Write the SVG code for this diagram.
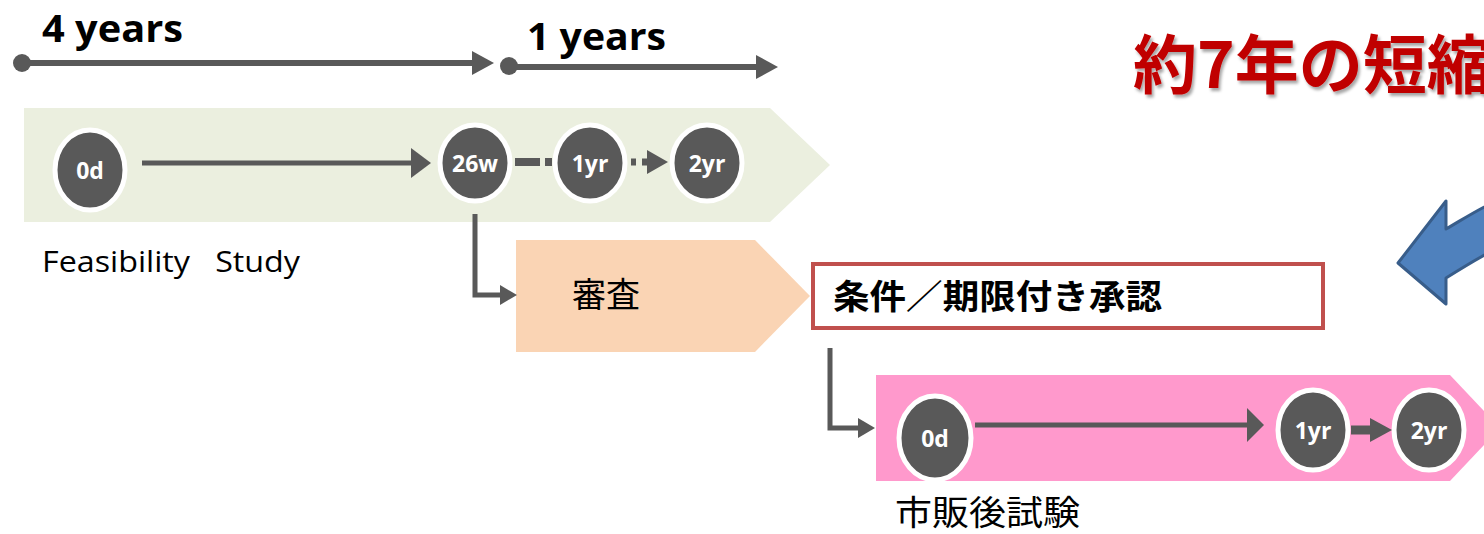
<svg xmlns="http://www.w3.org/2000/svg" width="1484" height="534" viewBox="0 0 1484 534">
<style>
.lbl{font-family:"Open Sans","Liberation Sans",sans-serif;font-weight:bold;fill:#000}
.node{fill:#595959;stroke:#fff;stroke-width:5}
.nt{font-family:"Open Sans","Liberation Sans",sans-serif;font-weight:bold;font-size:23px;fill:#fff;text-anchor:middle}
.ln{stroke:#595959;fill:none}
.hd{fill:#595959}
.jp{font-family:"Noto Sans CJK JP","Noto Sans CJK SC",sans-serif;fill:#000}
</style>
<defs>
<filter id="sh" x="-5%" y="-5%" width="115%" height="130%"><feDropShadow dx="2" dy="3" stdDeviation="1.5" flood-color="#000" flood-opacity="0.35"/></filter>
</defs>

<g id="timeline">
<circle cx="22" cy="63" r="9" fill="#595959"/>
<line class="ln" x1="22" y1="63" x2="474" y2="63" stroke-width="6"/>
<polygon class="hd" points="472,51 494,63 472,75"/>
<text class="lbl" x="42" y="42" font-size="38" textLength="141" lengthAdjust="spacingAndGlyphs">4 years</text>
<circle cx="509" cy="66" r="9" fill="#595959"/>
<line class="ln" x1="509" y1="67" x2="758" y2="67" stroke-width="6"/>
<polygon class="hd" points="756,55 778,67 756,79"/>
<text class="lbl" x="527" y="50" font-size="38" textLength="139" lengthAdjust="spacingAndGlyphs">1 years</text>
</g>

<g id="feasibility">
<polygon points="24,108 770,108 830,165 770,222 24,222" fill="#ebefdf"/>
<text x="42" y="272" font-family="'Open Sans','Liberation Sans',sans-serif" font-size="30" fill="#000" textLength="258" lengthAdjust="spacingAndGlyphs" xml:space="preserve">Feasibility   Study</text>
</g>

<g id="n-0d"><ellipse class="node" cx="90" cy="170" rx="35" ry="40"/><text class="nt" x="90" y="179">0d</text></g>
<g id="n-26w"><ellipse class="node" cx="475" cy="163" rx="35" ry="38"/><text class="nt" x="475" y="172">26w</text></g>
<g id="n-1yr"><ellipse class="node" cx="590" cy="163" rx="35" ry="38"/><text class="nt" x="590" y="172">1yr</text></g>
<g id="n-2yr"><ellipse class="node" cx="707" cy="163" rx="35" ry="38"/><text class="nt" x="707" y="172">2yr</text></g>

<g id="review">
<polygon points="516,240 755,240 810,296 755,352 516,352" fill="#fad4b4"/>
<text class="jp" x="572" y="307" font-size="34">審査</text>
</g>

<g id="approval">
<rect x="813" y="264" width="510" height="64" fill="#fff" stroke="#c0504d" stroke-width="4"/>
<text class="jp" x="833" y="309" font-size="34" font-weight="bold" textLength="329" lengthAdjust="spacingAndGlyphs">条件／期限付き承認</text>
</g>

<g id="title">
<text x="1133" y="88" font-family="'Noto Sans CJK JP','Noto Sans CJK SC',sans-serif" font-size="64" font-weight="bold" fill="#c00000" filter="url(#sh)">約7年の短縮</text>
</g>

<g id="blue-arrow">
<path d="M1398,263 L1446,201 L1446,229 C1460,221 1472,213 1490,204 L1490,252 C1475,260 1462,268 1446,278 L1446,304 Z" fill="#4f81bd" stroke="#385d8a" stroke-width="3" stroke-linejoin="round"/>
</g>

<g id="postmarket">
<polygon points="876,375 1450,375 1500,428 1450,481 876,481" fill="#ff99cc"/>
<text class="jp" x="895" y="525" font-size="34" textLength="185" lengthAdjust="spacingAndGlyphs">市販後試験</text>
</g>

<g id="n2-0d"><ellipse class="node" cx="935" cy="438" rx="36" ry="42"/><text class="nt" x="935" y="447">0d</text></g>
<g id="n2-1yr"><ellipse class="node" cx="1313" cy="430" rx="35" ry="40"/><text class="nt" x="1313" y="439">1yr</text></g>
<g id="n2-2yr"><ellipse class="node" cx="1429" cy="430" rx="35" ry="40"/><text class="nt" x="1429" y="439">2yr</text></g>

<g id="connectors">
<line class="ln" x1="142" y1="163" x2="413" y2="163" stroke-width="5"/>
<polygon class="hd" points="411,148 431,163 411,178"/>
<line class="ln" x1="515" y1="162" x2="553" y2="162" stroke-width="8" stroke-dasharray="25,5,7,5"/>
<line class="ln" x1="631" y1="162" x2="648" y2="162" stroke-width="7" stroke-dasharray="5,6,6,6"/>
<polygon class="hd" points="647,150 668,162 647,174"/>
<polyline class="ln" points="475,214 475,295 502,295" stroke-width="5"/>
<polygon class="hd" points="500,285 517,295 500,305"/>
<polyline class="ln" points="830,348 830,428 860,428" stroke-width="5"/>
<polygon class="hd" points="858,418 875,428 858,438"/>
<line class="ln" x1="975" y1="425" x2="1249" y2="425" stroke-width="5"/>
<polygon class="hd" points="1247,408 1264,425 1247,442"/>
<line class="ln" x1="1351" y1="430" x2="1372" y2="430" stroke-width="9"/>
<polygon class="hd" points="1370,418 1392,430 1370,442"/>
</g>
</svg>
